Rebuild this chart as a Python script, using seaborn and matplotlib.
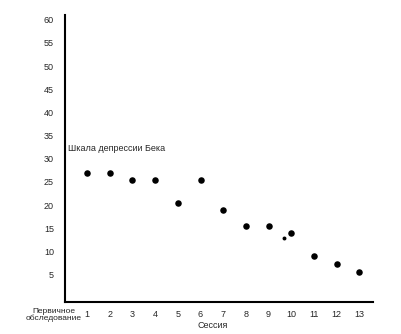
import matplotlib
matplotlib.use("Agg")
import matplotlib.pyplot as plt
import seaborn as sns
import pandas as pd
import matplotlib.transforms as mtransforms

sns.set_style("white")
plt.rcParams['font.family'] = ['Liberation Sans', 'DejaVu Sans']

sessions = [1, 2, 3, 4, 5, 6, 7, 8, 9, 10, 11, 12, 13]
scores = [27, 27, 25.5, 25.5, 20.5, 25.5, 19, 15.5, 15.5, 14, 9, 7.3, 5.5]
extra_session = [9.7]
extra_score = [13]
y_ticks = [5, 10, 15, 20, 25, 30, 35, 40, 45, 50, 55, 60]
x_labels = [str(s) for s in sessions]
first_label = "Первичное\nобследование"
x_title = "Сессия"
scale_label = "Шкала депрессии Бека"

df = pd.DataFrame({"session": sessions, "score": scores})
df2 = pd.DataFrame({"session": extra_session, "score": extra_score})

fig = plt.figure(figsize=(4.02, 3.34), dpi=100)
ax = fig.add_axes([65/402, 32/334, (373-65)/402, (302-15)/334])

sns.scatterplot(data=df, x="session", y="score", ax=ax, color="black", s=22,
                edgecolor="black", linewidth=0)
sns.scatterplot(data=df2, x="session", y="score", ax=ax, color="black", s=8,
                edgecolor="black", linewidth=0)

ax.set_xlim(0.03, 13.6)
ax.set_ylim(-0.9, 61)
ax.set_xticks(sessions)
ax.set_xticklabels(x_labels, fontsize=6.5)
ax.set_yticks(y_ticks)
ax.set_yticklabels([str(v) for v in y_ticks], fontsize=6.5)
ax.tick_params(axis='both', length=0)
ax.tick_params(axis='y', pad=8)
ax.tick_params(axis='x', pad=6)
ax.set_xlabel("")
ax.set_ylabel("")

for side in ["top", "right"]:
    ax.spines[side].set_visible(False)
for side in ["left", "bottom"]:
    ax.spines[side].set_color("black")
    ax.spines[side].set_linewidth(1.5)

trans = mtransforms.blended_transform_factory(ax.transData, fig.transFigure)
ax.text(-0.45, (334-315)/334, first_label, transform=trans, ha="center", va="center",
        fontsize=6, linespacing=0.95)
ax.text(6.55, (334-325)/334, x_title, transform=trans, ha="center", va="center",
        fontsize=6.5)
ax.text(0.15, 32.3, scale_label, ha="left", va="center", fontsize=6.5)

fig.savefig("out.png", dpi=100)
